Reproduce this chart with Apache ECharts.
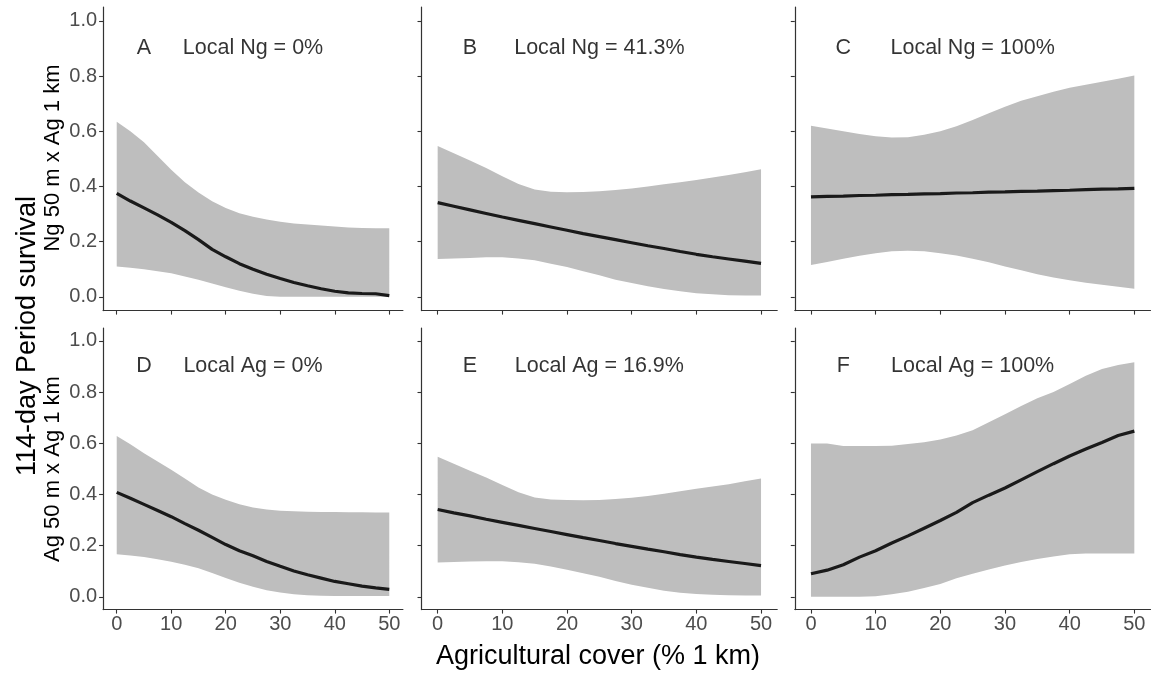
<!DOCTYPE html>
<html>
<head>
<meta charset="utf-8">
<script src="https://cdn.jsdelivr.net/npm/echarts@6/dist/echarts.min.js"></script>
<style>
  html, body { margin: 0; padding: 0; background: #ffffff; }
  #chart { width: 1155px; height: 673px; }
</style>
</head>
<body>
<div id="chart"></div>
<script>
// Agricultural cover (% within 1 km) at which survival was predicted
const coverX = [0, 2.5, 5, 7.5, 10, 12.5, 15, 17.5, 20, 22.5, 25, 27.5, 30, 32.5, 35, 37.5, 40, 42.5, 45, 47.5, 50];
const xTicks = [0, 10, 20, 30, 40, 50];
const yTicks = [0, 0.2, 0.4, 0.6, 0.8, 1.0];

const panelLetters = ['A', 'B', 'C', 'D', 'E', 'F'];
const panelLabels = ['Local Ng = 0%', 'Local Ng = 41.3%', 'Local Ng = 100%',
                     'Local Ag = 0%', 'Local Ag = 16.9%', 'Local Ag = 100%'];
const rowTitles = ['Ng 50 m x Ag 1 km', 'Ag 50 m x Ag 1 km'];
const yTitle = '114-day Period survival';
const xTitle = 'Agricultural cover (% 1 km)';

// Panel A: Ng 50 m x Ag 1 km, local Ng = 0%
const fitA   = [0.375, 0.347, 0.322, 0.297, 0.270, 0.240, 0.207, 0.172, 0.145, 0.120, 0.100, 0.082, 0.066, 0.052, 0.040, 0.029, 0.020, 0.014, 0.012, 0.011, 0.004];
const lowerA = [0.110, 0.105, 0.100, 0.093, 0.085, 0.074, 0.062, 0.048, 0.035, 0.022, 0.011, 0.003, 0, 0, 0, 0, 0, 0, 0, 0, 0];
const upperA = [0.634, 0.600, 0.560, 0.510, 0.460, 0.415, 0.378, 0.346, 0.322, 0.303, 0.290, 0.280, 0.272, 0.266, 0.262, 0.258, 0.255, 0.251, 0.249, 0.248, 0.248];

// Panel B: local Ng = 41.3%
const fitB   = [0.341, 0.328, 0.315, 0.302, 0.289, 0.277, 0.265, 0.253, 0.241, 0.229, 0.218, 0.207, 0.196, 0.185, 0.175, 0.164, 0.154, 0.145, 0.137, 0.129, 0.121];
const lowerB = [0.137, 0.139, 0.141, 0.143, 0.143, 0.139, 0.132, 0.120, 0.108, 0.093, 0.078, 0.062, 0.050, 0.038, 0.028, 0.020, 0.013, 0.009, 0.006, 0.005, 0.005];
const upperB = [0.546, 0.520, 0.494, 0.467, 0.437, 0.409, 0.389, 0.381, 0.379, 0.380, 0.382, 0.387, 0.392, 0.400, 0.408, 0.415, 0.423, 0.432, 0.441, 0.451, 0.462];

// Panel C: local Ng = 100%
const fitC   = [0.362, 0.364, 0.365, 0.367, 0.368, 0.370, 0.371, 0.373, 0.374, 0.376, 0.377, 0.379, 0.380, 0.382, 0.383, 0.385, 0.386, 0.388, 0.390, 0.391, 0.393];
const lowerC = [0.115, 0.126, 0.138, 0.149, 0.158, 0.165, 0.167, 0.165, 0.158, 0.150, 0.138, 0.125, 0.110, 0.096, 0.082, 0.070, 0.060, 0.051, 0.044, 0.036, 0.029];
const upperC = [0.620, 0.610, 0.600, 0.590, 0.582, 0.577, 0.578, 0.587, 0.600, 0.618, 0.641, 0.665, 0.689, 0.710, 0.727, 0.743, 0.757, 0.768, 0.779, 0.790, 0.802];

// Panel D: Ag 50 m x Ag 1 km, local Ag = 0%
const fitD   = [0.408, 0.385, 0.361, 0.337, 0.313, 0.286, 0.260, 0.232, 0.204, 0.180, 0.160, 0.138, 0.119, 0.101, 0.086, 0.073, 0.060, 0.051, 0.042, 0.035, 0.029];
const lowerD = [0.166, 0.161, 0.155, 0.147, 0.137, 0.125, 0.112, 0.093, 0.073, 0.055, 0.039, 0.026, 0.017, 0.010, 0.006, 0.004, 0.003, 0.003, 0.003, 0.003, 0.003];
const upperD = [0.628, 0.596, 0.561, 0.529, 0.496, 0.462, 0.427, 0.400, 0.379, 0.362, 0.349, 0.341, 0.336, 0.334, 0.332, 0.331, 0.331, 0.330, 0.330, 0.329, 0.329];

// Panel E: local Ag = 16.9%
const fitE   = [0.341, 0.328, 0.316, 0.303, 0.291, 0.279, 0.267, 0.255, 0.243, 0.231, 0.220, 0.208, 0.197, 0.186, 0.176, 0.165, 0.155, 0.146, 0.138, 0.130, 0.122];
const lowerE = [0.134, 0.136, 0.138, 0.139, 0.139, 0.135, 0.129, 0.118, 0.106, 0.092, 0.078, 0.062, 0.047, 0.035, 0.024, 0.016, 0.011, 0.008, 0.006, 0.005, 0.005];
const upperE = [0.547, 0.520, 0.492, 0.466, 0.437, 0.408, 0.388, 0.380, 0.378, 0.377, 0.378, 0.382, 0.387, 0.394, 0.403, 0.412, 0.422, 0.431, 0.440, 0.451, 0.462];

// Panel F: local Ag = 100%
const fitF   = [0.090, 0.104, 0.125, 0.155, 0.180, 0.210, 0.238, 0.268, 0.298, 0.330, 0.368, 0.397, 0.425, 0.457, 0.489, 0.520, 0.550, 0.577, 0.603, 0.630, 0.647];
const lowerF = [0, 0, 0, 0, 0.002, 0.010, 0.020, 0.034, 0.050, 0.072, 0.090, 0.107, 0.122, 0.136, 0.148, 0.157, 0.166, 0.169, 0.169, 0.169, 0.169];
const upperF = [0.599, 0.599, 0.589, 0.589, 0.589, 0.590, 0.597, 0.604, 0.614, 0.630, 0.651, 0.682, 0.713, 0.745, 0.776, 0.800, 0.831, 0.863, 0.890, 0.905, 0.916];

const fits   = [fitA, fitB, fitC, fitD, fitE, fitF];
const lowers = [lowerA, lowerB, lowerC, lowerD, lowerE, lowerF];
const uppers = [upperA, upperB, upperC, upperD, upperE, upperF];

// ---- layout (pixels) ----
const FONT = 'Liberation Sans, Arial, Helvetica, sans-serif';
const AXIS_COLOR = '#333333';
const TICK_TEXT = '#4d4d4d';
const BAND = '#bebebe';
const colLeft  = [103.1, 421.5, 794.8];
const colWidth = [299.8, 355.7, 355.7];
const rowTop    = [7, 328];
const rowHeight = [303.6, 281.6];

const grids = [], xAxes = [], yAxes = [], series = [];

// Confidence band drawn as one polygon: upper edge left->right, lower edge back
function bandRenderer(lo, up) {
  return function (params, api) {
    if (params.dataIndex !== 0) return null;
    const pts = [];
    for (let k = 0; k < coverX.length; k++) pts.push(api.coord([coverX[k], up[k]]));
    for (let k = coverX.length - 1; k >= 0; k--) pts.push(api.coord([coverX[k], lo[k]]));
    return { type: 'polygon', shape: { points: pts }, style: { fill: BAND }, silent: true };
  };
}

for (let i = 0; i < 6; i++) {
  const r = Math.floor(i / 3), c = i % 3;
  grids.push({ left: colLeft[c], top: rowTop[r], width: colWidth[c], height: rowHeight[r], containLabel: false });

  xAxes.push({
    type: 'value', gridIndex: i, min: -2.5, max: 52.5,
    axisLine: { show: true, onZero: false, lineStyle: { color: AXIS_COLOR, width: 1.2 } },
    axisTick: { show: true, customValues: xTicks, length: 4, lineStyle: { color: AXIS_COLOR, width: 1.1 } },
    axisLabel: { show: r === 1, customValues: xTicks, margin: 5, color: TICK_TEXT, fontSize: 20, fontFamily: FONT },
    splitLine: { show: false }
  });

  yAxes.push({
    type: 'value', gridIndex: i, min: -0.05, max: 1.05,
    axisLine: { show: true, onZero: false, lineStyle: { color: AXIS_COLOR, width: 1.2 } },
    axisTick: { show: true, customValues: yTicks, length: 4, lineStyle: { color: AXIS_COLOR, width: 1.1 } },
    axisLabel: { show: c === 0, customValues: yTicks, margin: 6, color: TICK_TEXT, fontSize: 20, fontFamily: FONT,
                 formatter: v => v.toFixed(1) },
    splitLine: { show: false }
  });

  const lo = lowers[i], up = uppers[i], fit = fits[i];
  series.push({
    type: 'custom', xAxisIndex: i, yAxisIndex: i, silent: true, z: 1,
    renderItem: bandRenderer(lo, up),
    data: coverX.map((x, k) => [x, lo[k], up[k]]),
    encode: { x: 0, y: [1, 2] }
  });
  // fitted survival
  series.push({
    type: 'line', xAxisIndex: i, yAxisIndex: i, symbol: 'none', silent: true, z: 3,
    lineStyle: { color: '#1a1a1a', width: 3.2 },
    data: coverX.map((x, k) => [x, fit[k]])
  });
  // panel letter and local-cover label
  series.push({
    type: 'scatter', xAxisIndex: i, yAxisIndex: i, symbolSize: 1, silent: true, z: 5,
    itemStyle: { color: 'rgba(0,0,0,0)' },
    label: { show: true, position: 'inside', offset: [0, 2.5], formatter: '{b}', color: '#000000',
             fontSize: 21.5, fontFamily: FONT },
    labelLayout: { hideOverlap: false },
    data: [ { name: panelLetters[i], value: [5, 0.9] }, { name: panelLabels[i], value: [25, 0.9] } ]
  });
}

const chart = echarts.init(document.getElementById('chart'), null, { renderer: 'canvas' });
chart.setOption({
  animation: false,
  backgroundColor: '#ffffff',
  grid: grids,
  xAxis: xAxes,
  yAxis: yAxes,
  series: series,
  graphic: [
    { type: 'text', x: 28, y: 336, rotation: Math.PI / 2,
      style: { text: yTitle, fill: '#000', font: '27px ' + FONT, textAlign: 'center', textVerticalAlign: 'middle' } },
    { type: 'text', x: 53, y: 158, rotation: Math.PI / 2,
      style: { text: rowTitles[0], fill: '#000', font: '22px ' + FONT, textAlign: 'center', textVerticalAlign: 'middle' } },
    { type: 'text', x: 53, y: 469, rotation: Math.PI / 2,
      style: { text: rowTitles[1], fill: '#000', font: '22px ' + FONT, textAlign: 'center', textVerticalAlign: 'middle' } },
    { type: 'text', x: 598, y: 657,
      style: { text: xTitle, fill: '#000', font: '27px ' + FONT, textAlign: 'center', textVerticalAlign: 'middle' } }
  ]
});
</script>
</body>
</html>
